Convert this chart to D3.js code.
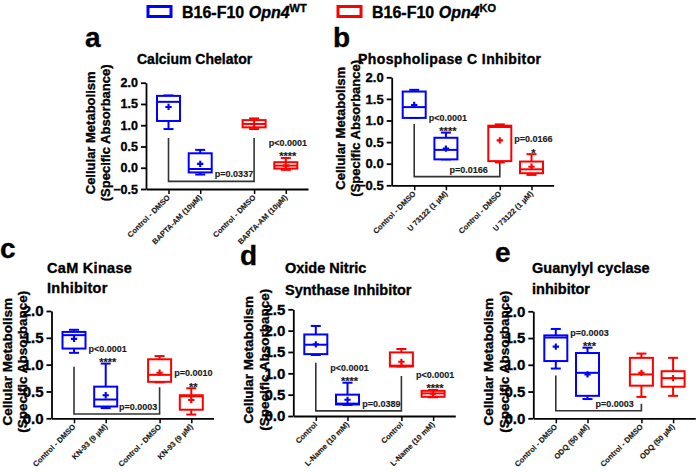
<!DOCTYPE html>
<html><head><meta charset="utf-8">
<script src="https://cdn.jsdelivr.net/npm/d3@7"></script>
<style>
body{margin:0;background:#fff}
svg{display:block}
text{font-family:"Liberation Sans",Arial,Helvetica,sans-serif;font-weight:bold;fill:#000;stroke:#000;stroke-width:0.35px}
text.small{fill:#1a1a1a;stroke:#1a1a1a;stroke-width:0.15px}
</style>
</head><body>
<svg id="chart" width="696" height="472"></svg>
<script>
// ---------------- DATA ----------------
const legendNames = ["WT", "KO"];

const aLabels = ["Control - DMSO", "BAPTA-AM (10µM)", "Control - DMSO", "BAPTA-AM (10µM)"];
const aMin  = [0.91, -0.16, 0.91, -0.05];
const aQ1   = [1.10, -0.11, 0.95, -0.02];
const aMed  = [1.55, -0.03, 1.03, 0.05];
const aQ3   = [1.69, 0.34, 1.12, 0.13];
const aMax  = [1.70, 0.42, 1.16, 0.23];
const aMean = [1.43, 0.09, 1.03, 0.05];
const aTicks = [-0.5, 0, 0.5, 1.0, 1.5, 2.0];

const bLabels = ["Control -  DMSO", "U 73122 (1 µM)", "Control -  DMSO", "U 73122 (1 µM)"];
const bMin  = [1.06, 0.10, 0.03, -0.26];
const bQ1   = [1.06, 0.10, 0.06, -0.22];
const bMed  = [1.31, 0.32, 0.85, -0.13];
const bQ3   = [1.67, 0.60, 0.88, 0.05];
const bMax  = [1.71, 0.72, 0.91, 0.22];
const bMean = [1.36, 0.35, 0.54, -0.07];
const bTicks = [-0.5, 0, 0.5, 1.0, 1.5, 2.0];

const cLabels = ["Control - DMSO", "KN-93 (9 µM)", "Control - DMSO", "KN-93 (9 µM)"];
const cMin  = [1.22, 0.19, 0.67, 0.07];
const cQ1   = [1.30, 0.22, 0.68, 0.16];
const cMed  = [1.55, 0.35, 0.81, 0.41];
const cQ3   = [1.61, 0.59, 1.10, 0.43];
const cMax  = [1.65, 1.02, 1.16, 0.56];
const cMean = [1.48, 0.43, 0.85, 0.34];
const cTicks = [0, 0.5, 1.0, 1.5, 2.0];

const dLabels = ["Control", "L-Name (10 mM)", "Control", "L-Name (10 mM)"];
const dMin  = [1.43, 0.26, 1.16, 0.44];
const dQ1   = [1.45, 0.27, 1.16, 0.45];
const dMed  = [1.67, 0.29, 1.18, 0.53];
const dQ3   = [1.91, 0.50, 1.49, 0.59];
const dMax  = [2.11, 0.78, 1.57, 0.61];
const dMean = [1.68, 0.38, 1.27, 0.52];
const dTicks = [0, 0.5, 1.0, 1.5, 2.0, 2.5];

const eLabels = ["Control - DMSO", "ODQ (50 µM)", "Control - DMSO", "ODQ (50 µM)"];
const eMin  = [0.93, 0.36, 0.40, 0.42];
const eQ1   = [1.07, 0.42, 0.61, 0.59];
const eMed  = [1.51, 0.85, 0.82, 0.75];
const eQ3   = [1.55, 1.22, 1.13, 0.88];
const eMax  = [1.67, 1.32, 1.21, 1.13];
const eMean = [1.34, 0.82, 0.85, 0.75];
const eTicks = [0, 0.5, 1.0, 1.5, 2.0];

// significance vs. own control
const aSig = [{box: 3, p: "p<0.0001", stars: "****"}];
const bSig = [{box: 1, p: "p<0.0001", stars: "****"}, {box: 3, p: "p=0.0166", stars: "*"}];
const cSig = [{box: 1, p: "p<0.0001", stars: "****"}, {box: 3, p: "p=0.0010", stars: "**"}];
const dSig = [{box: 1, p: "p<0.0001", stars: "****"}, {box: 3, p: "p<0.0001", stars: "****"}];
const eSig = [{box: 1, p: "p=0.0003", stars: "***"}];

// WT control vs KO control brackets (values in data units)
const aBracket = {leftTop: 0.70, rightTop: 0.70, bottom: -0.32, label: "p=0.0337", labelEnd: 2.67};
const bBracket = {leftTop: 0.92, rightTop: 0.55, bottom: -0.30, label: "p=0.0166", labelEnd: 2.32};
const cBracket = {leftTop: 0.96, rightTop: 0.58, bottom: 0.08, label: "p=0.0003", labelEnd: 2.63};
const dBracket = {leftTop: 1.25, rightTop: 0.94, bottom: 0.12, label: "p=0.0389", labelEnd: 2.67};
const eBracket = {leftTop: 0.80, rightTop: 0.27, bottom: 0.14, label: "p=0.0003", labelEnd: 2.46};

// ---------------- DRAW ----------------
const svg = d3.select("#chart");
const BLUE = "#0000ff", RED = "#ff0000";
const boxColors = [BLUE, BLUE, RED, RED];
const xPos = [0, 1, 2.7, 3.7];
const STEP = 31.7;
const BOXW = 23, CAPW = 10;

// legend
const legend = [
  {x: 148, color: BLUE, name: legendNames[0]},
  {x: 338, color: RED, name: legendNames[1]}
];
legend.forEach(l => {
  svg.append("rect").attr("x", l.x).attr("y", 6.5).attr("width", 23).attr("height", 10)
    .attr("fill", "none").attr("stroke", l.color).attr("stroke-width", 3);
  const t = svg.append("text").attr("x", l.x + 34).attr("y", 17.5).attr("font-size", 16);
  t.append("tspan").text("B16-F10 ");
  t.append("tspan").attr("font-style", "italic").text("Opn4");
  t.append("tspan").attr("font-size", 11).attr("dy", -6).text(l.name);
});

function panel(cfg) {
  const g = svg.append("g");
  const y = d3.scaleLinear().domain(cfg.domain).range([cfg.yBot, cfg.yTop]);
  const x = d3.scaleLinear().domain([-0.71, 4.4]).range([cfg.axisX, cfg.axisX + 5.11 * STEP]);

  // panel letter
  g.append("text").attr("x", cfg.letterX).attr("y", cfg.letterY).attr("font-size", 28).text(cfg.letter);

  // title
  cfg.title.forEach((line, i) => {
    g.append("text").attr("x", cfg.titleX).attr("y", cfg.titleY + i * cfg.titleGap)
      .attr("font-size", cfg.titleSize).attr("letter-spacing", cfg.titleLS || 0).text(line);
  });

  // y axis
  const ya = g.append("g").attr("transform", `translate(${cfg.axisX},0)`)
    .call(d3.axisLeft(y).tickValues(cfg.ticks).tickFormat(d3.format(".1f")).tickSize(5).tickSizeOuter(0).tickPadding(3));
  ya.attr("font-size", cfg.tickSize);
  ya.select(".domain").attr("stroke", "#000").attr("stroke-width", 1.8);
  ya.selectAll(".tick line").attr("stroke", "#000").attr("stroke-width", 1.8);
  ya.selectAll(".tick text").attr("font-size", cfg.tickSize);

  // x axis
  const xa = g.append("g").attr("transform", `translate(0,${cfg.yBot})`)
    .call(d3.axisBottom(x).tickValues(xPos).tickFormat("").tickSize(5).tickSizeOuter(0));
  xa.select(".domain").attr("stroke", "#000").attr("stroke-width", 1.8);
  xa.selectAll(".tick line").attr("stroke", "#000").attr("stroke-width", 1.5);

  // rotated x labels
  cfg.labels.forEach((lab, i) => {
    g.append("text").attr("class", "small")
      .attr("transform", `translate(${x(xPos[i]) + 2},${cfg.yBot + 9}) rotate(-45)`)
      .attr("text-anchor", "end").attr("font-size", 7.6).text(lab);
  });

  // y title
  const cy = (cfg.yTop + cfg.yBot) / 2 - 3;
  ["Cellular Metabolism", "(Specific Absorbance)"].forEach((line, i) => {
    g.append("text")
      .attr("transform", `translate(${cfg.axisX + cfg.ytOff[i]},${cy}) rotate(-90)`)
      .attr("text-anchor", "middle").attr("font-size", cfg.ytSize).text(line);
  });

  // bracket
  const br = cfg.bracket;
  const xl = x(xPos[0]), xr = x(xPos[2]);
  g.append("path")
    .attr("d", `M${xl},${y(br.leftTop)}V${y(br.bottom)}H${xr}V${y(br.rightTop)}`)
    .attr("fill", "none").attr("stroke", "#333").attr("stroke-width", 1.6);
  g.append("text").attr("class", "small").attr("x", x(br.labelEnd)).attr("y", y(br.bottom) - 4)
    .attr("text-anchor", "end").attr("font-size", 9).text(br.label);

  // boxes
  for (let i = 0; i < 4; i++) {
    const cx = x(xPos[i]);
    const col = boxColors[i];
    const bg = g.append("g").attr("stroke", col).attr("stroke-width", 2).attr("fill", "none");
    bg.append("line").attr("x1", cx).attr("x2", cx).attr("y1", y(cfg.q3[i])).attr("y2", y(cfg.max[i]));
    bg.append("line").attr("x1", cx).attr("x2", cx).attr("y1", y(cfg.q1[i])).attr("y2", y(cfg.min[i]));
    bg.append("line").attr("x1", cx - CAPW / 2).attr("x2", cx + CAPW / 2).attr("y1", y(cfg.max[i])).attr("y2", y(cfg.max[i]));
    bg.append("line").attr("x1", cx - CAPW / 2).attr("x2", cx + CAPW / 2).attr("y1", y(cfg.min[i])).attr("y2", y(cfg.min[i]));
    bg.append("rect").attr("x", cx - BOXW / 2).attr("width", BOXW)
      .attr("y", y(cfg.q3[i])).attr("height", Math.max(0.5, y(cfg.q1[i]) - y(cfg.q3[i])))
      .attr("fill", "#fff");
    bg.append("line").attr("x1", cx - BOXW / 2).attr("x2", cx + BOXW / 2).attr("y1", y(cfg.med[i])).attr("y2", y(cfg.med[i]));
    g.append("path").attr("d", d3.symbol(d3.symbolCross).size(22)())
      .attr("transform", `translate(${cx},${y(cfg.mean[i])})`).attr("fill", col);
  }

  // significance vs control
  cfg.sig.forEach(s => {
    const cx = x(xPos[s.box]) + 2;
    const wt = y(cfg.max[s.box]);
    g.append("text").attr("class", "small").attr("x", cx).attr("y", wt - 12).attr("text-anchor", "middle")
      .attr("font-size", 9).text(s.p);
    g.append("text").attr("class", "small").attr("x", cx).attr("y", wt + 2.5).attr("text-anchor", "middle")
      .attr("font-size", 11).text(s.stars);
  });
}

panel({letter: "a", letterX: 85, letterY: 47, title: ["Calcium Chelator"], titleX: 137, titleY: 64, titleGap: 0, titleSize: 14,
  axisX: 146, yTop: 82.7, yBot: 189, domain: [-0.5, 2.0], ticks: aTicks, tickSize: 12.5, ytSize: 13, ytOff: [-51.5, -36],
  labels: aLabels, min: aMin, q1: aQ1, med: aMed, q3: aQ3, max: aMax, mean: aMean, sig: aSig, bracket: aBracket});

panel({letter: "b", letterX: 333, letterY: 47, title: ["Phospholipase C Inhibitor"], titleX: 358, titleY: 64, titleGap: 0, titleSize: 14, titleLS: 0.4,
  axisX: 391.7, yTop: 77.3, yBot: 185.3, domain: [-0.5, 2.0], ticks: bTicks, tickSize: 13, ytSize: 13, ytOff: [-47, -32],
  labels: bLabels, min: bMin, q1: bQ1, med: bMed, q3: bQ3, max: bMax, mean: bMean, sig: bSig, bracket: bBracket});

panel({letter: "c", letterX: 0, letterY: 258, title: ["CaM Kinase", "Inhibitor"], titleX: 47, titleY: 273, titleGap: 20, titleSize: 14.5, titleLS: 0.3,
  axisX: 51.5, yTop: 311, yBot: 418.3, domain: [0, 2.0], ticks: cTicks, tickSize: 15, ytSize: 13.5, ytOff: [-40, -24.5],
  labels: cLabels, min: cMin, q1: cQ1, med: cMed, q3: cQ3, max: cMax, mean: cMean, sig: cSig, bracket: cBracket});

panel({letter: "d", letterX: 240, letterY: 265, title: ["Oxide Nitric", "Synthase Inhibitor"], titleX: 285, titleY: 273, titleGap: 22, titleSize: 14.5,
  axisX: 293.3, yTop: 309.3, yBot: 416, domain: [0, 2.5], ticks: dTicks, tickSize: 15, ytSize: 13.5, ytOff: [-40, -24.5],
  labels: dLabels, min: dMin, q1: dQ1, med: dMed, q3: dQ3, max: dMax, mean: dMean, sig: dSig, bracket: dBracket});

panel({letter: "e", letterX: 495, letterY: 262, title: ["Guanylyl cyclase", "inhibitor"], titleX: 532, titleY: 273, titleGap: 21, titleSize: 14.5,
  axisX: 533.3, yTop: 311.3, yBot: 418.3, domain: [0, 2.0], ticks: eTicks, tickSize: 15, ytSize: 13.5, ytOff: [-40, -24.5],
  labels: eLabels, min: eMin, q1: eQ1, med: eMed, q3: eQ3, max: eMax, mean: eMean, sig: eSig, bracket: eBracket});
</script>
</body></html>
